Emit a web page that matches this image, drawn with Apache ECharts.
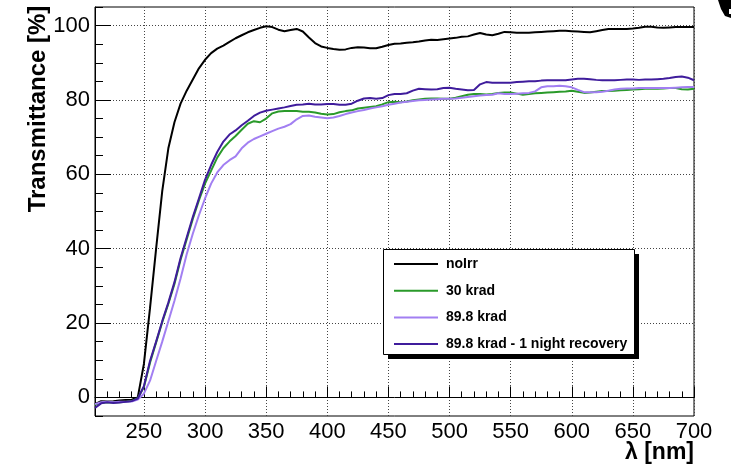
<!DOCTYPE html>
<html>
<head>
<meta charset="utf-8">
<script src="https://cdn.jsdelivr.net/npm/echarts@6/dist/echarts.min.js"></script>
<style>
  html, body { margin: 0; padding: 0; background: #fff; }
  #chart { width: 731px; height: 468px; }
</style>
</head>
<body>
<div id="chart"></div>
<script>
// Wavelength sampling grid [nm]
const wavelengths = [
  210, 215, 220, 225, 230, 235, 240, 245, 250, 255, 260, 265, 270, 275, 280, 285, 290, 295, 300,
  305, 310, 315, 320, 325, 330, 335, 340, 345, 350, 355, 360, 365, 370, 375, 380, 385, 390, 395,
  400, 405, 410, 415, 420, 425, 430, 435, 440, 445, 450, 455, 460, 465, 470, 475, 480, 485, 490,
  495, 500, 505, 510, 515, 520, 525, 530, 535, 540, 545, 550, 555, 560, 565, 570, 575, 580, 585,
  590, 595, 600, 605, 610, 615, 620, 625, 630, 635, 640, 645, 650, 655, 660, 665, 670, 675, 680,
  685, 690, 695, 700
];

// Transmittance [%] of the non-irradiated sample
const noIrr = [
  -1.8, -1.0, -1.1, -1.0, -0.8, -0.7, -0.6, 0.0, 9.0, 24.0, 40.0, 55.5, 67.0, 74.0, 79.0, 82.5, 85.5, 88.5, 90.8,
  92.6, 93.8, 94.6, 95.6, 96.6, 97.4, 98.2, 98.8, 99.4, 99.8, 99.6, 98.9, 98.5, 98.8, 99.1, 98.4, 96.8, 95.3, 94.4,
  94.0, 93.7, 93.5, 93.6, 94.0, 94.2, 94.1, 93.9, 93.9, 94.3, 94.8, 95.1, 95.2, 95.4, 95.5, 95.7, 96.0, 96.2, 96.1,
  96.3, 96.5, 96.7, 97.0, 97.1, 97.6, 98.0, 97.6, 97.4, 97.8, 98.3, 98.2, 98.1, 98.1, 98.1, 98.2, 98.3, 98.4, 98.5,
  98.6, 98.6, 98.5, 98.4, 98.3, 98.2, 98.5, 98.8, 99.1, 99.1, 99.1, 99.1, 99.2, 99.4, 99.7, 99.7, 99.5, 99.4, 99.5,
  99.6, 99.6, 99.6, 99.6
];

// After 30 krad
const krad30 = [
  -2.0, -1.5, -1.3, -1.4, -1.3, -1.2, -1.0, -0.2, 2.8, 9.3, 14.8, 20.2, 25.2, 30.5, 37.0, 42.5, 48.0, 53.0, 57.5,
  61.0, 64.5, 67.0, 68.8, 70.3, 72.0, 73.6, 74.3, 74.0, 75.0, 76.4, 76.9, 77.0, 77.0, 77.0, 76.8, 76.8, 76.6, 76.3,
  76.1, 76.2, 76.7, 77.0, 77.2, 77.7, 77.9, 78.1, 78.3, 78.8, 79.4, 79.5, 79.4, 79.6, 79.9, 80.1, 80.3, 80.4, 80.4,
  80.3, 80.3, 80.6, 81.0, 81.4, 81.6, 81.6, 81.5, 81.6, 81.9, 82.0, 82.0, 81.7, 81.4, 81.6, 81.8, 81.9, 82.0, 82.1,
  82.2, 82.3, 82.5, 82.2, 81.9, 82.0, 82.2, 82.4, 82.4, 82.5, 82.6, 82.7, 82.8, 82.9, 83.0, 83.0, 83.0, 83.1, 83.2,
  83.2, 82.9, 82.8, 83.0
];

// After 89.8 krad
const krad898 = [
  -1.8, -1.3, -1.2, -1.3, -1.2, -1.2, -1.1, -0.6, 1.0, 4.5, 9.8, 15.0, 20.5, 26.0, 32.0, 38.5, 44.0, 49.0, 53.5,
  57.5, 60.5, 62.5, 63.8, 64.8, 67.0, 68.5, 69.5, 70.2, 70.9, 71.6, 72.3, 72.8, 73.5, 74.8, 75.7, 75.8, 75.5, 75.3,
  75.1, 75.3, 75.7, 76.2, 76.6, 77.0, 77.3, 77.7, 78.0, 78.3, 78.7, 79.0, 79.3, 79.5, 79.7, 79.9, 80.0, 80.1, 80.2,
  80.3, 80.3, 80.4, 80.6, 80.8, 81.0, 81.2, 81.3, 81.4, 81.8, 81.6, 81.6, 81.7, 81.8, 81.9, 82.3, 83.4, 83.7, 83.7,
  83.8, 83.7, 83.4, 82.7, 82.1, 82.1, 82.1, 82.2, 82.5, 82.8, 83.0, 83.1, 83.1, 83.2, 83.2, 83.2, 83.2, 83.2, 83.2,
  83.3, 83.4, 83.5, 83.5
];

// After 89.8 krad and one night of recovery
const krad898Rec = [
  -2.8, -1.6, -1.3, -1.5, -1.4, -1.2, -1.0, -0.3, 3.0, 9.8, 15.0, 20.5, 25.5, 31.0, 37.5, 43.0, 48.5, 53.5, 58.5,
  62.5, 66.0, 68.8, 70.7, 71.8, 73.2, 74.4, 75.7, 76.6, 77.1, 77.4, 77.7, 78.0, 78.4, 78.7, 78.8, 79.0, 78.8, 78.8,
  78.9, 78.9, 78.7, 78.7, 79.0, 79.8, 80.4, 80.5, 80.3, 80.5, 81.3, 81.6, 81.6, 81.8, 82.5, 83.0, 82.9, 82.8, 82.9,
  83.2, 83.3, 83.0, 82.8, 82.6, 82.7, 84.2, 84.8, 84.6, 84.6, 84.6, 84.6, 84.8, 84.9, 85.0, 85.0, 85.2, 85.3, 85.3,
  85.3, 85.3, 85.5, 85.7, 85.7, 85.6, 85.4, 85.3, 85.3, 85.3, 85.4, 85.5, 85.5, 85.4, 85.5, 85.5, 85.6, 85.7, 85.9,
  86.2, 86.3, 86.0, 85.3
];

const seriesNames = ['noIrr', '30 krad', '89.8 krad', '89.8 krad - 1 night recovery'];
const seriesColors = ['#000000', '#2a9a2a', '#a27ff2', '#3f1c9c'];
const seriesValues = [noIrr, krad30, krad898, krad898Rec];

const xMajorTicks = [250, 300, 350, 400, 450, 500, 550, 600, 650, 700];
const yMajorTicks = [0, 20, 40, 60, 80, 100];

const FONT = '"Liberation Sans", Arial, Helvetica, sans-serif';

const chart = echarts.init(document.getElementById('chart'), null, { renderer: 'canvas' });

const gridLine = { show: true, lineStyle: { color: '#444', width: 1, type: [1, 2] } };

const option = {
  animation: false,
  backgroundColor: '#fff',
  grid: {
    left: 95, top: 7, right: 37, bottom: 52,
    show: true, borderColor: '#000', borderWidth: 1, backgroundColor: 'transparent'
  },
  xAxis: [
    {
      type: 'value', min: 210, max: 700, position: 'bottom',
      axisLine: { show: true, lineStyle: { color: '#000', width: 1 } },
      axisTick: { show: true, inside: true, length: 11, customValues: xMajorTicks, lineStyle: { color: '#000' } },
      axisLabel: { show: true, customValues: xMajorTicks, margin: 5, fontSize: 22, color: '#000', fontFamily: FONT },
      splitLine: gridLine
    },
    {
      type: 'value', min: 210, max: 700, interval: 10, position: 'bottom',
      axisLine: { show: false },
      axisTick: { show: true, inside: true, length: 6, lineStyle: { color: '#000' } },
      axisLabel: { show: false },
      splitLine: { show: false }
    }
  ],
  yAxis: [
    {
      type: 'value', min: -5, max: 105, position: 'left',
      axisLine: { show: true, lineStyle: { color: '#000', width: 1 } },
      axisTick: { show: true, inside: true, length: 16, customValues: yMajorTicks, lineStyle: { color: '#000' } },
      axisLabel: { show: true, customValues: yMajorTicks, margin: 5, fontSize: 22, color: '#000', fontFamily: FONT },
      splitLine: gridLine
    },
    {
      type: 'value', min: -5, max: 105, interval: 5, position: 'left',
      axisLine: { show: false },
      axisTick: { show: true, inside: true, length: 8, lineStyle: { color: '#000' } },
      axisLabel: { show: false },
      splitLine: { show: false }
    }
  ],
  legend: {
    left: 393, top: 257, z: 30, padding: 0,
    orient: 'vertical',
    itemWidth: 44, itemHeight: 14, itemGap: 12.7,
    selectedMode: false,
    itemStyle: { opacity: 0, borderWidth: 0 },
    textStyle: { fontSize: 14, fontWeight: 'bold', color: '#000', fontFamily: FONT, padding: [0, 0, 0, 3] },
    data: seriesNames
  },
  graphic: [
    // legend box with drop shadow
    { type: 'rect', shape: { x: 388, y: 254, width: 251, height: 105 }, style: { fill: '#000' }, z: 5 },
    { type: 'rect', shape: { x: 383.5, y: 249.5, width: 251, height: 105 }, style: { fill: '#fff', stroke: '#000', lineWidth: 1 }, z: 6 },
    // axis titles
    {
      type: 'text', x: 38, y: 109, rotation: Math.PI / 2, z: 10,
      style: { text: 'Transmittance [%]', font: 'bold 24px ' + FONT, fill: '#000', align: 'center', verticalAlign: 'middle' }
    },
    {
      type: 'text', x: 694, y: 453, z: 10,
      style: { text: 'λ [nm]', font: 'bold 23px ' + FONT, fill: '#000', align: 'right', verticalAlign: 'middle' }
    },
    // stray mark in the top-right corner
    {
      type: 'polygon', z: 10,
      shape: { points: [[718, 0], [731, 0], [731, 9], [729, 9], [729, 14], [731, 14], [731, 18], [725, 16], [721, 9]] },
      style: { fill: '#000' }
    }
  ],
  series: seriesNames.map((name, i) => ({
    name: name,
    type: 'line',
    xAxisIndex: 0,
    yAxisIndex: 0,
    showSymbol: false,
    symbol: 'none',
    smooth: false,
    clip: true,
    z: 3 + i,
    color: seriesColors[i],
    lineStyle: { color: seriesColors[i], width: 2 },
    data: wavelengths.map((w, k) => [w, seriesValues[i][k]])
  }))
};

chart.setOption(option);
</script>
</body>
</html>
